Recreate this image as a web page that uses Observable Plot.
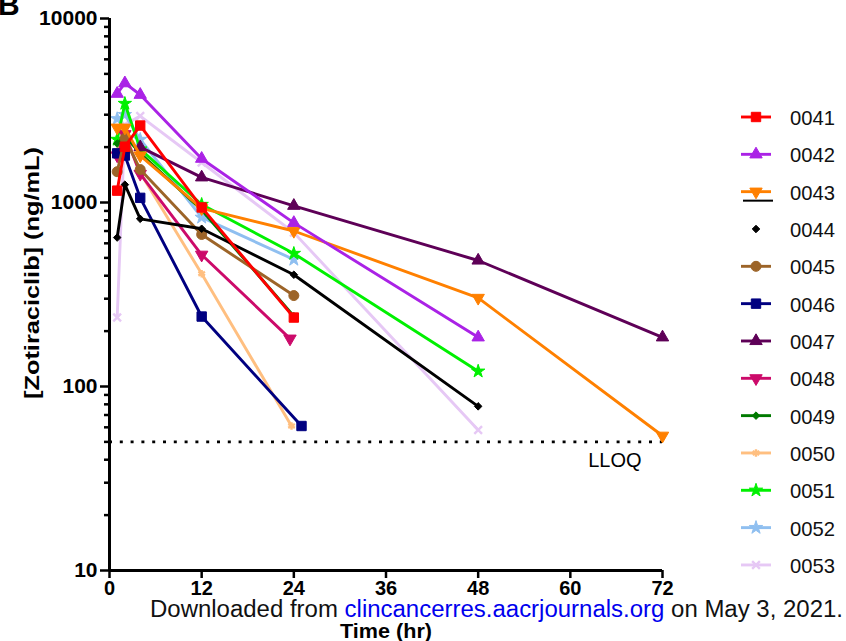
<!DOCTYPE html>
<html>
<head>
<meta charset="utf-8">
<script src="https://cdn.jsdelivr.net/npm/d3@7"></script>
<script src="https://cdn.jsdelivr.net/npm/@observablehq/plot@0.6"></script>
<style>
  body { margin: 0; background: white; }
  #wrap { position: relative; width: 846px; height: 641px; overflow: hidden; background: white; font-family: "Liberation Sans", Arial, sans-serif; }
  #wrap svg { position: absolute; left: 0; top: 0; }
  g[aria-label="y-axis tick label"] text, g[aria-label="x-axis tick label"] text { font-weight: bold; }
</style>
</head>
<body>
<div id="wrap"></div>
<script>
// ---- data ----
const ids = ["0041","0042","0043","0044","0045","0046","0047","0048","0049","0050","0051","0052","0053"];
const t0041 = [1, 2, 4, 12, 24];           const c0041 = [1160, 2010, 2620, 940, 237];
const t0042 = [1, 2, 4, 12, 24, 48];       const c0042 = [3900, 4450, 3850, 1730, 775, 185];
const t0043 = [1, 2, 4, 12, 24, 48, 72];   const c0043 = [2550, 2550, 1800, 930, 700, 303, 54];
const t0044 = [1, 2, 4, 12, 24, 48];       const c0044 = [645, 1250, 815, 720, 405, 78];
const t0045 = [1, 2, 4, 12, 24];           const c0045 = [1470, 2230, 1510, 670, 312];
const t0046 = [1, 2, 4, 12, 25];           const c0046 = [1850, 1800, 1060, 240, 61];
const t0047 = [4, 12, 24, 48, 72];         const c0047 = [2000, 1370, 960, 484, 185];
const t0048 = [1, 2, 4, 12, 23.5];         const c0048 = [1800, 2350, 1430, 520, 182];
const t0049 = [1, 2, 4, 12, 24];           const c0049 = [2090, 2300, 1850, 910, 241];
const t0050 = [1, 2, 4, 12, 23.7];         const c0050 = [1900, 2400, 1450, 410, 61];
const t0051 = [1, 2, 4, 12, 24, 48];       const c0051 = [2200, 3450, 1950, 975, 528, 121];
const t0052 = [1, 2, 4, 12, 24];           const c0052 = [2850, 3000, 2200, 830, 490];
const t0053 = [1, 2, 4, 12, 24, 48];       const c0053 = [237, 2650, 2950, 1650, 686, 58];
const lloq = 50;
const xTicks = [0, 12, 24, 36, 48, 60, 72];
const yMajor = [10, 100, 1000, 10000];
const yMinor = [20,30,40,50,60,70,80,90,200,300,400,500,600,700,800,900,2000,3000,4000,5000,6000,7000,8000,9000];

// ---- styles ----
const triangleDown = {
  draw(context, size) {
    const y = -Math.sqrt(size / (Math.sqrt(3) * 3));
    const s = Math.sqrt(3);
    context.moveTo(0, -y * 2);
    context.lineTo(-s * y, y);
    context.lineTo(s * y, y);
    context.closePath();
  }
};
const triangleUp = {
  draw(context, size) {
    const y = -Math.sqrt(size / (Math.sqrt(3) * 3));
    const s = Math.sqrt(3);
    context.moveTo(0, y * 2);
    context.lineTo(-s * y, -y);
    context.lineTo(s * y, -y);
    context.closePath();
  }
};
const styles = {
  "0041": {color: "#ff0000", symbol: d3.symbolSquare, r: 5.3, filled: true},
  "0042": {color: "#aa22e6", symbol: triangleUp, r: 4.6, filled: true},
  "0043": {color: "#ff8000", symbol: triangleDown, r: 4.6, filled: true},
  "0044": {color: "#000000", symbol: d3.symbolDiamond2, r: 3.4, filled: true},
  "0045": {color: "#9c6428", symbol: d3.symbolCircle, r: 5, filled: true},
  "0046": {color: "#000080", symbol: d3.symbolSquare, r: 5.3, filled: true},
  "0047": {color: "#5e0057", symbol: triangleUp, r: 4.6, filled: true},
  "0048": {color: "#cc0a6a", symbol: triangleDown, r: 4.6, filled: true},
  "0049": {color: "#007a00", symbol: d3.symbolDiamond2, r: 3.4, filled: true},
  "0050": {color: "#ffbf80", symbol: d3.symbolAsterisk, r: 3.6, filled: false},
  "0051": {color: "#00f000", symbol: d3.symbolStar, r: 4.2, filled: true},
  "0052": {color: "#8fbff0", symbol: d3.symbolStar, r: 4.2, filled: true},
  "0053": {color: "#e6c8f5", symbol: d3.symbolTimes, r: 3.6, filled: false}
};

const tArr = {"0041": t0041, "0042": t0042, "0043": t0043, "0044": t0044, "0045": t0045, "0046": t0046, "0047": t0047, "0048": t0048, "0049": t0049, "0050": t0050, "0051": t0051, "0052": t0052, "0053": t0053};
const cArr = {"0041": c0041, "0042": c0042, "0043": c0043, "0044": c0044, "0045": c0045, "0046": c0046, "0047": c0047, "0048": c0048, "0049": c0049, "0050": c0050, "0051": c0051, "0052": c0052, "0053": c0053};

const seriesMarks = [];
for (const id of ids.slice().reverse()) {
  const st = styles[id];
  const rows = tArr[id].map((t, i) => ({id, t, c: cArr[id][i]}));
  seriesMarks.push(Plot.line(rows, {x: "t", y: "c", stroke: st.color, strokeWidth: 2.9}));
  seriesMarks.push(Plot.dot(rows, {
    x: "t", y: "c", symbol: st.symbol, r: st.r,
    fill: st.filled ? st.color : "none", stroke: st.color,
    strokeWidth: st.filled ? 1 : 2.4
  }));
}

const lloqLabel = [{t: 72, c: lloq, text: "LLOQ"}];

const chart = Plot.plot({
  width: 846, height: 641,
  marginLeft: 109, marginRight: 184, marginTop: 18, marginBottom: 71,
  x: {domain: [0, 72]},
  y: {type: "log", domain: [10, 10000]},
  style: {fontFamily: "'Liberation Sans', Arial, sans-serif", background: "transparent", color: "black"},
  marks: [
    Plot.axisY({ticks: yMinor, tickSize: 5, tickFormat: () => "", strokeWidth: 2.5, label: null}),
    Plot.axisY({ticks: yMajor, tickSize: 9, tickPadding: 3, fontSize: 21, fontWeight: "bold", strokeWidth: 2.5, label: null, tickFormat: d => String(d)}),
    Plot.axisX({ticks: xTicks, tickSize: 8, tickPadding: 2, fontSize: 20, fontWeight: "bold", strokeWidth: 2.5, label: null, tickFormat: d => String(d)}),
    Plot.ruleY([lloq], {strokeDasharray: "3,7.8", strokeWidth: 2.6}),
    Plot.text(lloqLabel, {x: "t", y: "c", text: "text", textAnchor: "end", dx: -21, dy: 19, fontSize: 20}),
    ...seriesMarks,
    Plot.ruleX([0], {strokeWidth: 3}),
    Plot.ruleY([10], {strokeWidth: 3})
  ]
});

const wrap = document.getElementById("wrap");
wrap.appendChild(chart);

// ---- overlay: legend, labels, panel letter, footer ----
const ov = d3.select(wrap).append("svg")
  .attr("width", 846).attr("height", 641)
  .style("pointer-events", "none")
  .style("font-family", "'Liberation Sans', Arial, sans-serif");

const legY0 = 117, legStep = 37.33;
ids.forEach((id, i) => {
  const st = styles[id];
  const y = legY0 + i * legStep;
  const g = ov.append("g").attr("transform", `translate(0,${y})`);
  if (id !== "0044") {
    g.append("line").attr("x1", 741).attr("x2", 771).attr("y1", 0).attr("y2", 0)
      .attr("stroke", st.color).attr("stroke-width", 2.9);
  }
  g.append("path").attr("transform", "translate(756,0)")
    .attr("d", d3.symbol(st.symbol, Math.PI * st.r * st.r)())
    .attr("fill", st.filled ? st.color : "none").attr("stroke", st.color)
    .attr("stroke-width", st.filled ? 1 : 2.4);
  if (id === "0043") {
    g.append("line").attr("x1", 743).attr("x2", 773).attr("y1", 9).attr("y2", 9)
      .attr("stroke", "black").attr("stroke-width", 2);
  }
  g.append("text").attr("x", 790).attr("y", 8).attr("font-size", 21).attr("fill", "#111")
    .attr("textLength", 45).attr("lengthAdjust", "spacingAndGlyphs").text(id);
});

ov.append("text").attr("transform", "translate(39,273) rotate(-90)")
  .attr("text-anchor", "middle").attr("font-size", 21).attr("font-weight", "bold")
  .attr("textLength", 252).attr("lengthAdjust", "spacingAndGlyphs")
  .text("[Zotiraciclib] (ng/mL)");

ov.append("text").attr("x", 386).attr("y", 638).attr("text-anchor", "middle")
  .attr("font-size", 21).attr("font-weight", "bold")
  .attr("textLength", 92).attr("lengthAdjust", "spacingAndGlyphs").text("Time (hr)");

ov.append("text").attr("x", -2).attr("y", 15).attr("font-size", 30).attr("font-weight", "bold").text("B");

const foot = ov.append("text").attr("x", 150).attr("y", 617).attr("font-size", 23)
  .attr("font-family", "'Liberation Sans Narrow', 'Liberation Sans', Arial, sans-serif")
  .attr("textLength", 693).attr("lengthAdjust", "spacingAndGlyphs");
foot.append("tspan").attr("fill", "#111").text("Downloaded from ");
foot.append("tspan").attr("fill", "#0000ee").text("clincancerres.aacrjournals.org");
foot.append("tspan").attr("fill", "#111").text(" on May 3, 2021.");
</script>
</body>
</html>
